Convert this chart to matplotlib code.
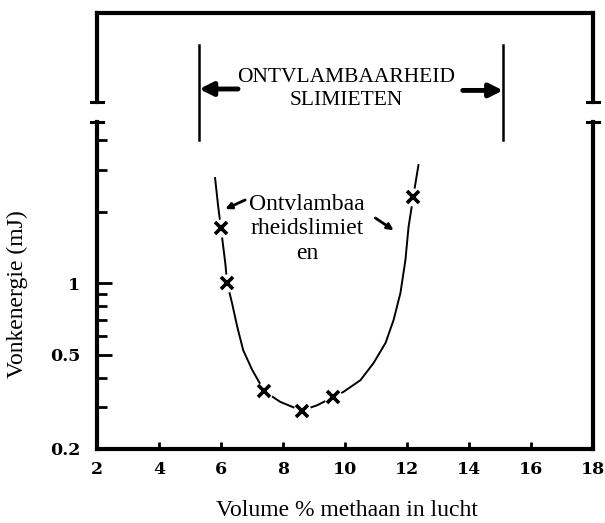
import matplotlib.pyplot as plt
from matplotlib import transforms
from matplotlib.lines import Line2D
from matplotlib.ticker import FixedLocator, NullFormatter

plt.rcParams['font.family'] = ['Liberation Serif', 'DejaVu Serif']

# measured ignition energies (markers)
meting_x = [6.0, 6.2, 7.4, 8.6, 9.6, 12.2]
meting_e = [1.7, 1.0, 0.35, 0.29, 0.33, 2.3]

# hand-drawn curve through the measurements
curve_x = [5.81, 5.91, 6.0, 6.14, 6.2, 6.36, 6.53, 6.72, 7.01, 7.4, 7.91,
           8.6, 9.11, 9.6, 9.95, 10.5, 10.92, 11.31, 11.57, 11.79, 11.95,
           12.05, 12.2, 12.37]
curve_e = [2.77, 2.1, 1.7, 1.21, 1.0, 0.82, 0.65, 0.52, 0.43, 0.35, 0.316,
           0.29, 0.306, 0.33, 0.348, 0.39, 0.46, 0.56, 0.70, 0.91, 1.25,
           1.72, 2.3, 3.14]

# flammability limits (vol %)
grens_x = [5.3, 15.1]

x_ticks = [2, 4, 6, 8, 10, 12, 14, 16, 18]
y_major = [0.2, 0.5, 1]
y_major_labels = ['0.2', '0.5', '1']
y_minor = [0.3, 0.4, 0.6, 0.7, 0.8, 0.9, 2, 3, 4]

fig = plt.figure(figsize=(6.05, 5.23), dpi=100)
ax = fig.add_axes([0.1603, 0.1415, 0.8198, 0.6252])
ax_top = fig.add_axes([0.1603, 0.805, 0.8198, 0.1702])

# ---------------- lower (log) part ----------------
ax.plot(curve_x, curve_e, color='black', lw=1.4, zorder=2)
ax.plot(meting_x, meting_e, ls='none', marker='o', ms=13, mfc='white',
        mec='none', zorder=3)
ax.plot(meting_x, meting_e, ls='none', marker='x', ms=8, mew=2.6,
        color='black', zorder=4)

ax.set_yscale('log')
ax.set_xlim(2, 18)
ax.set_ylim(0.2, 4.77)
ax.xaxis.set_major_locator(FixedLocator(x_ticks))
ax.set_xticklabels([str(t) for t in x_ticks])
ax.yaxis.set_major_locator(FixedLocator(y_major))
ax.yaxis.set_minor_locator(FixedLocator(y_minor))
ax.set_yticklabels(y_major_labels)
ax.yaxis.set_minor_formatter(NullFormatter())
ax.xaxis.set_minor_locator(FixedLocator([]))

ax.tick_params(axis='x', direction='in', length=5, width=2, pad=9)
ax.tick_params(axis='y', which='major', direction='in', length=11, width=2, pad=12)
ax.tick_params(axis='y', which='minor', direction='in', length=7, width=2)
for lab in ax.get_xticklabels() + ax.get_yticklabels():
    lab.set_family('DejaVu Serif')
    lab.set_fontweight('bold')
    lab.set_fontsize(12.5)

for s in ['left', 'bottom', 'right']:
    ax.spines[s].set_linewidth(3)
ax.spines['top'].set_visible(False)

ax.set_xlabel('Volume % methaan in lucht', fontsize=17)
ax.xaxis.set_label_coords(0.503, -0.187)
ax.xaxis.label.set_va('center')
ax.set_ylabel('Vonkenergie (mJ)', fontsize=17)
ax.yaxis.set_label_coords(-0.139, 0.474)

# ---------------- upper part above the break ----------------
ax_top.set_xlim(2, 18)
ax_top.set_ylim(0, 1)
ax_top.set_xticks([])
ax_top.set_yticks([])
for s in ['left', 'top', 'right']:
    ax_top.spines[s].set_linewidth(3)
ax_top.spines['bottom'].set_visible(False)

# caps at the axis break
for a, yy in [(ax_top, 0), (ax, 1)]:
    for xx in [0, 1]:
        a.add_line(Line2D([xx - 0.012, xx + 0.012], [yy, yy], color='black',
                          lw=2.2, transform=a.transAxes, clip_on=False))

# flammability limits: vertical lines with arrows
trans = transforms.blended_transform_factory(ax_top.transData, ax_top.transAxes)
for gx in grens_x:
    ax_top.add_line(Line2D([gx, gx], [0.64, -0.43], color='black', lw=1.8,
                           transform=trans, clip_on=False))
ax_top.annotate('', xy=(grens_x[0], 0.146), xytext=(grens_x[0] + 1.25, 0.146),
                xycoords=trans, textcoords=trans,
                arrowprops=dict(arrowstyle='-|>', lw=3.5, color='black',
                                mutation_scale=20, shrinkA=0, shrinkB=0))
ax_top.annotate('', xy=(grens_x[1], 0.13), xytext=(grens_x[1] - 1.3, 0.13),
                xycoords=trans, textcoords=trans,
                arrowprops=dict(arrowstyle='-|>', lw=3.5, color='black',
                                mutation_scale=20, shrinkA=0, shrinkB=0))
fig.text(0.572, 1 - 89 / 523, 'ONTVLAMBAARHEID\nSLIMIETEN', ha='center',
         va='center', fontsize=15.5, linespacing=1.25)

# label for the curve with two pointers
ax.text(8.77, 1.69, 'Ontvlambaa\nrheidslimiet\nen', ha='center', va='center',
        fontsize=17, linespacing=1.2, zorder=5)
ax.annotate('', xy=(6.14, 2.05), xytext=(6.78, 2.24),
            arrowprops=dict(arrowstyle='-|>', lw=2, color='black',
                            mutation_scale=9, shrinkA=0, shrinkB=0))
ax.annotate('', xy=(11.57, 1.67), xytext=(10.98, 1.88),
            arrowprops=dict(arrowstyle='-|>', lw=2, color='black',
                            mutation_scale=9, shrinkA=0, shrinkB=0))

plt.savefig('out.png', dpi=100)
plt.close()
